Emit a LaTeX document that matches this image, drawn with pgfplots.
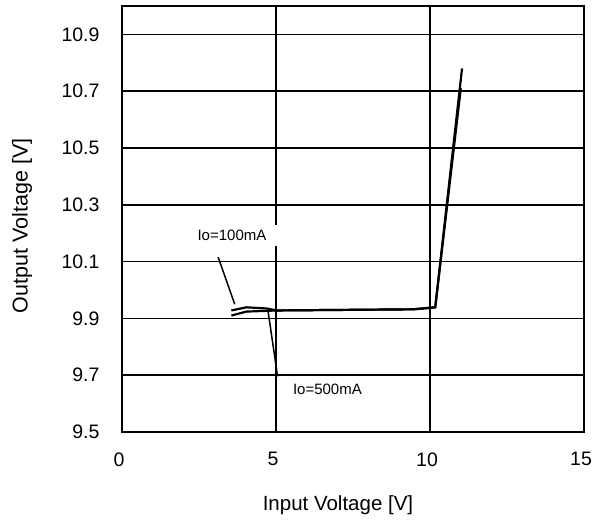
\documentclass[border=0pt]{standalone}
\usepackage{fontspec}
\setmainfont{Liberation Sans}
\usepackage{pgfplots}
\pgfplotsset{compat=1.18}
\begin{document}
\begin{tikzpicture}
\begin{axis}[
    scale only axis,
    width=462pt, height=426pt,
    xmin=0, xmax=15,
    ymin=9.5, ymax=11.0,
    xtick={0,5,10,15},
    ytick={9.5,9.7,9.9,10.1,10.3,10.5,10.7,10.9},
    yticklabel style={/pgf/number format/fixed, /pgf/number format/precision=1, /pgf/number format/fixed zerofill, xshift=-19pt},
    xticklabel style={yshift=-17pt, xshift=-3pt},
    /pgf/number format/assume math mode=true,
    ticklabel style={font=\fontsize{19.5}{22}\selectfont},
    major tick length=0pt,
    grid=major,
    major grid style={black, line width=1.5pt},
    axis line style={black, line width=2pt},
    xlabel={Input Voltage [V]},
    ylabel={Output Voltage [V]},
    xlabel style={font=\fontsize{20.5}{24}\selectfont, at={(axis description cs:0.4675,-0.171)}, anchor=center},
    ylabel style={font=\fontsize{21.5}{24}\selectfont, at={(axis description cs:-0.2165,0.484)}, anchor=center},
]
    % Io=100mA
    \addplot[black, line width=2.2pt] coordinates {
        (3.55,9.928) (4.04,9.939) (4.69,9.935) (5.02,9.928)
        (9.45,9.932) (10.17,9.939) (11.04,10.78)
    };
    % Io=500mA
    \addplot[black, line width=2.2pt] coordinates {
        (3.55,9.910) (4.04,9.924) (5.02,9.928)
        (9.45,9.932) (10.17,9.939) (11.00,10.71)
    };
    % annotations
    \draw[black, line width=1.5pt] (axis cs:3.12,10.116) -- (axis cs:3.66,9.95);
    \node[fill=white, inner xsep=13pt, inner ysep=5pt, font=\fontsize{15}{18}\selectfont]
        at (axis cs:3.57,10.192) {Io=100mA};
    \draw[black, line width=1.5pt] (axis cs:4.745,9.924) -- (axis cs:5.05,9.696);
    \node[font=\fontsize{15}{18}\selectfont] at (axis cs:6.67,9.65) {Io=500mA};
\end{axis}
\pgfresetboundingbox
\path ([shift={(-122pt,-91pt)}]current axis.south west) rectangle ([shift={(17pt,6pt)}]current axis.north east);
\end{tikzpicture}
\end{document}
